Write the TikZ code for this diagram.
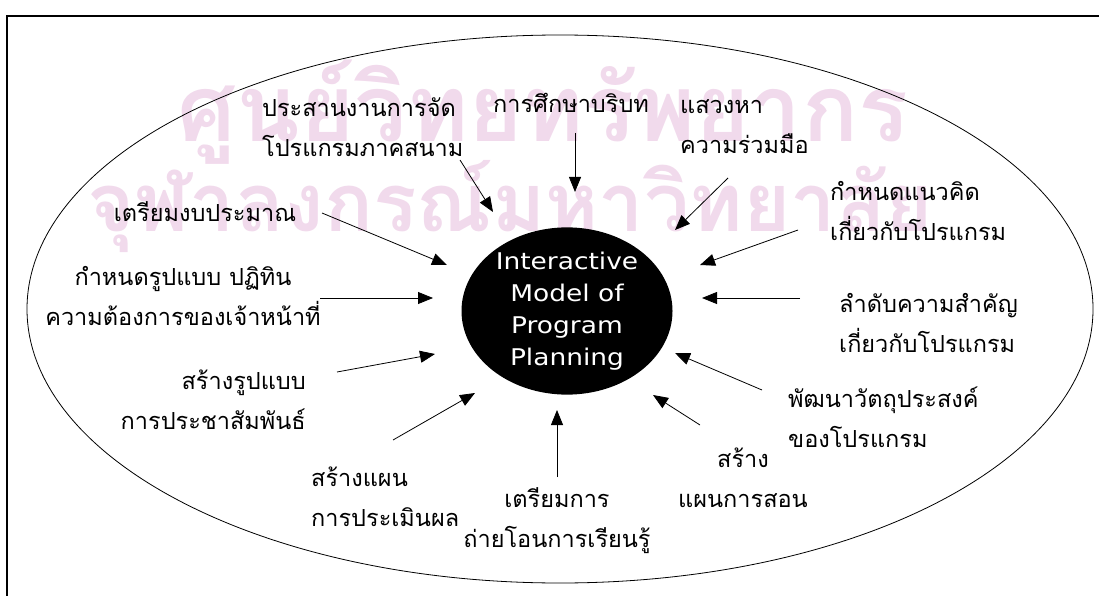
\documentclass[tikz,border=0pt]{standalone}
\usepackage{fontspec}
\newfontfamily\thaifont[Script=Thai]{Loma}
\newfontfamily\hubfont[FakeStretch=1.15]{DejaVu Sans}
\usetikzlibrary{arrows.meta,shapes.geometric}
\definecolor{wasser}{RGB}{241,218,236}
\begin{document}
\begin{tikzpicture}
[x=1pt,y=-1pt,
kern/.style={ellipse,fill=black,text=white,minimum width=211pt,minimum height=162pt,inner sep=0pt,align=center,font=\hubfont\fontsize{23}{32}\selectfont},
txt/.style={font=\thaifont\fontsize{23.5}{40}\selectfont,inner sep=0pt},
pf/.style={-{Triangle[length=15pt,width=12pt]},line width=0.8pt},
wz/.style={text=wasser,inner sep=0pt},
]
\useasboundingbox (0,0) rectangle (1099,596);

% watermark
\node[wz,font=\thaifont\bfseries\fontsize{93}{93}\selectfont] (w1) at (543,112) {ศูนย์วิทยทรัพยากร};
\node[wz,font=\thaifont\bfseries\fontsize{81}{81}\selectfont] (w2) at (510,207) {จุฬาลงกรณ์มหาวิทยาลัย};

% frame and outer ellipse
\draw[line width=1.8pt] (7,596) -- (7,16) -- (1099,16);
\draw[line width=0.8pt] (560,309) ellipse [x radius=533, y radius=274];

\node[kern] (hub) at (567,311) {Interactive\\Model of\\Program\\Planning};

\node[txt,anchor=west,align=left] (t1) at (262,127) {ประสานงานการจัด\\โปรแกรมภาคสนาม};
\node[txt] (t2) at (571,103) {การศึกษาบริบท};
\node[txt,anchor=west,align=left] (t3) at (680,127) {แสวงหา\\ความร่วมมือ};
\node[txt,anchor=west,align=left] (t4) at (830,211) {กำหนดแนวคิด\\เกี่ยวกับโปรแกรม};
\node[txt,anchor=west,align=left] (t5) at (839,323) {ลำดับความสำคัญ\\เกี่ยวกับโปรแกรม};
\node[txt,anchor=west,align=left] (t6) at (788,417) {พัฒนาวัตถุประสงค์\\ของโปรแกรม};
\node[txt,align=center] (t7) at (743,478) {สร้าง\\แผนการสอน};
\node[txt,align=center] (t8) at (557,521) {เตรียมการ\\ถ่ายโอนการเรียนรู้};
\node[txt,anchor=west,align=left] (t9) at (311,497) {สร้างแผน\\การประเมินผล};
\node[txt,anchor=east,align=right] (t10) at (306,400) {สร้างรูปแบบ\\การประชาสัมพันธ์};
\node[txt,align=center] (t11) at (183,296) {กำหนดรูปแบบ ปฏิทิน\\ความต้องการของเจ้าหน้าที่};
\node[txt] (t12) at (205,212) {เตรียมงบประมาณ};

% arrow ends
\coordinate (s1) at (460,160);  \coordinate (e1) at (493,212);
\coordinate (s2) at (575,133);  \coordinate (e2) at (575,192);
\coordinate (s3) at (728,178);  \coordinate (e3) at (675,230);
\coordinate (s4) at (798,230);  \coordinate (e4) at (700,265);
\coordinate (s5) at (800,298);  \coordinate (e5) at (702,298);
\coordinate (s6) at (762,390);  \coordinate (e6) at (675,353);
\coordinate (s7) at (700,425);  \coordinate (e7) at (653,395);
\coordinate (s8) at (557,477);  \coordinate (e8) at (557,410);
\coordinate (s9) at (393,440);  \coordinate (e9) at (475,393);
\coordinate (s10) at (337,372); \coordinate (e10) at (435,354);
\coordinate (s11) at (320,298); \coordinate (e11) at (433,298);
\coordinate (s12) at (322,213); \coordinate (e12) at (447,265);

\draw[pf] (s1) -- (e1);
\draw[pf] (s2) -- (e2);
\draw[pf] (s3) -- (e3);
\draw[pf] (s4) -- (e4);
\draw[pf] (s5) -- (e5);
\draw[pf] (s6) -- (e6);
\draw[pf] (s7) -- (e7);
\draw[pf] (s8) -- (e8);
\draw[pf] (s9) -- (e9);
\draw[pf] (s10) -- (e10);
\draw[pf] (s11) -- (e11);
\draw[pf] (s12) -- (e12);
\end{tikzpicture}
\end{document}
